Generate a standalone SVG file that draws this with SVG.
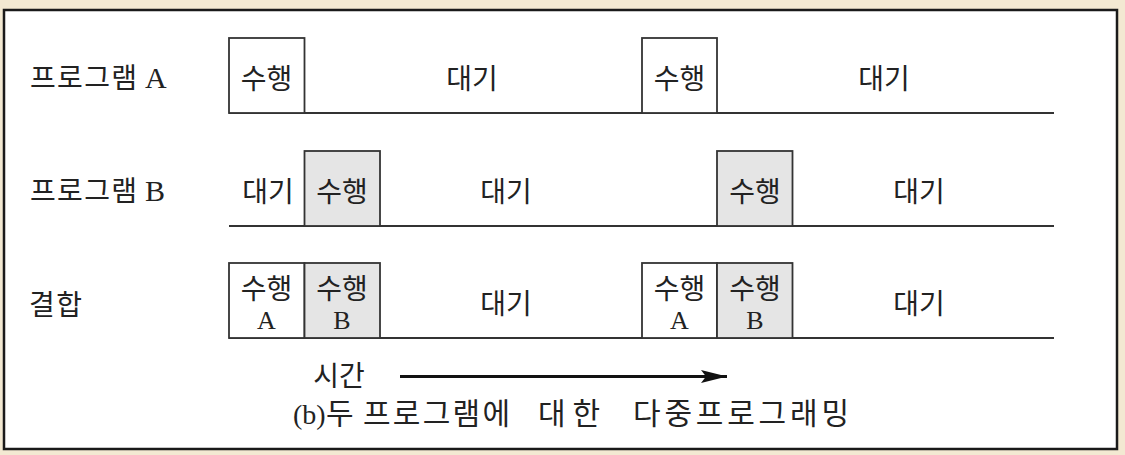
<svg xmlns="http://www.w3.org/2000/svg" width="1125" height="455" viewBox="0 0 1125 455">
  <style>
    .t { font-family: "Liberation Serif", "Noto Sans CJK KR", serif; fill: #222; font-size: 28px; }
    .m { text-anchor: middle; }
    .box { stroke: #333; stroke-width: 1.8; fill: #fff; }
    .run { fill: #e5e5e5; }
    .base { stroke: #333; stroke-width: 1.8; fill: none; }
    .lat { font-size: 30px; }
    .small { font-size: 26px; }
  </style>
  <defs>
    <marker id="arrow" markerUnits="userSpaceOnUse" markerWidth="28" markerHeight="16" refX="26" refY="8" orient="auto">
      <path d="M0,1.5 L26,8 L0,14.5 L5,8 Z" fill="#111"/>
    </marker>
  </defs>

  <rect x="0" y="0" width="1125" height="455" fill="#f3e9d2"/>
  <rect x="4" y="10" width="1113" height="439" fill="#ffffff" stroke="#1a1a1a" stroke-width="2.5"/>

  <g id="row-a">
    <text class="t" x="30" y="88"><tspan textLength="107" lengthAdjust="spacing">프로그램</tspan><tspan class="lat" x="145">A</tspan></text>
    <line class="base" x1="229" y1="113" x2="1054" y2="113"/>
    <rect class="box" x="229" y="38" width="75.5" height="75"/>
    <text class="t m" x="266.5" y="89">수행</text>
    <text class="t m" x="472" y="89">대기</text>
    <rect class="box" x="642" y="38" width="75" height="75"/>
    <text class="t m" x="679.5" y="89">수행</text>
    <text class="t m" x="884" y="89">대기</text>
  </g>

  <g id="row-b">
    <text class="t" x="30" y="201"><tspan textLength="107" lengthAdjust="spacing">프로그램</tspan><tspan class="lat" x="145">B</tspan></text>
    <line class="base" x1="229" y1="226" x2="1054" y2="226"/>
    <text class="t m" x="268" y="202">대기</text>
    <rect class="box run" x="304.5" y="151" width="75.5" height="75"/>
    <text class="t m" x="342" y="202">수행</text>
    <text class="t m" x="506" y="202">대기</text>
    <rect class="box run" x="717" y="151" width="75.5" height="75"/>
    <text class="t m" x="755" y="202">수행</text>
    <text class="t m" x="919" y="202">대기</text>
  </g>

  <g id="row-combined">
    <text class="t" x="29" y="315" textLength="53" lengthAdjust="spacing">결합</text>
    <line class="base" x1="229" y1="338" x2="1054" y2="338"/>
    <rect class="box" x="229" y="263" width="75.5" height="75"/>
    <text class="t m" x="266.5" y="299">수행</text>
    <text class="t m small" x="266.5" y="329">A</text>
    <rect class="box run" x="304.5" y="263" width="75.5" height="75"/>
    <text class="t m" x="342" y="299">수행</text>
    <text class="t m small" x="342" y="329">B</text>
    <text class="t m" x="506" y="314">대기</text>
    <rect class="box" x="642" y="263" width="75" height="75"/>
    <text class="t m" x="679.5" y="299">수행</text>
    <text class="t m small" x="679.5" y="329">A</text>
    <rect class="box run" x="717" y="263" width="75.5" height="75"/>
    <text class="t m" x="755" y="299">수행</text>
    <text class="t m small" x="755" y="329">B</text>
    <text class="t m" x="919" y="314">대기</text>
  </g>

  <g id="connectors">
    <line x1="400" y1="376.5" x2="727" y2="376.5" stroke="#111" stroke-width="3" marker-end="url(#arrow)"/>
  </g>

  <g id="time-label">
    <text class="t m" x="339" y="386">시간</text>
  </g>

  <g id="caption">
    <text class="t" style="font-size:30px" y="424"><tspan x="293" style="font-size:28px">(b)</tspan><tspan x="326">두</tspan><tspan x="363" textLength="147" lengthAdjust="spacing">프로그램에</tspan><tspan x="538" textLength="62" lengthAdjust="spacing">대한</tspan><tspan x="633" textLength="216" lengthAdjust="spacing">다중프로그래밍</tspan></text>
  </g>
</svg>
